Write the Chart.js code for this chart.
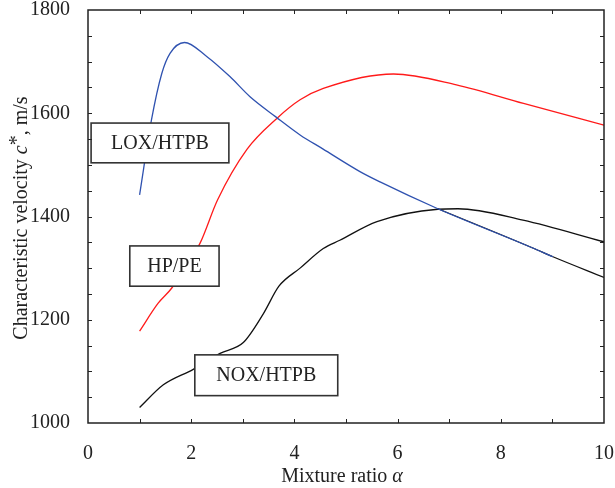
<!DOCTYPE html>
<html>
<head>
<meta charset="utf-8">
<script src="https://cdn.jsdelivr.net/npm/chart.js@4.4.1/dist/chart.umd.min.js"></script>
<style>
  html, body { margin: 0; padding: 0; background: #fff; }
</style>
</head>
<body>
<canvas id="chartMix" width="615" height="488"></canvas>
<script>
// LOX/HTPB (blue)
var loxAlpha = [1.0, 1.23, 1.43, 1.59, 1.87, 2.3, 2.75, 3.14, 3.64, 4.11, 4.55, 5.27, 5.66, 6.78, 8.62, 9.01];
var loxCstar = [1442, 1587, 1677, 1716, 1737, 1710, 1671, 1632, 1593, 1558, 1531, 1487, 1467, 1415, 1339, 1322];

// black line running under the blue one and out to alpha = 10
var tailAlpha = [6.78, 8.62, 9.01, 10];
var tailCstar = [1415, 1339, 1322, 1282];

// HP/PE (red)
var hpAlpha = [1.0, 1.36, 1.62, 2.17, 2.51, 3.08, 3.66, 4.11, 4.56, 5.92, 7.14, 8.44, 10];
var hpCstar = [1178, 1232, 1261, 1348, 1432, 1530, 1590, 1626, 1648, 1676, 1655, 1619, 1577];

// NOX/HTPB (black)
var noxAlpha = [1.0, 1.46, 2.04, 2.56, 3.01, 3.4, 3.7, 4.11, 4.56, 4.88, 5.6, 6.78, 7.17, 8.43, 10];
var noxCstar = [1030, 1074, 1104, 1135, 1156, 1212, 1265, 1300, 1338, 1354, 1390, 1414, 1415, 1393, 1351];

var xTicks = [0, 2, 4, 6, 8, 10];
var yTicks = [1000, 1200, 1400, 1600, 1800];

// label boxes, in axis units
var labelBoxes = [
    { text: 'LOX/HTPB', x0: 0.06, x1: 2.73, y0: 1504, y1: 1581 },
    { text: 'HP/PE',    x0: 0.81, x1: 2.54, y0: 1265, y1: 1343 },
    { text: 'NOX/HTPB', x0: 2.07, x1: 4.84, y0: 1053, y1: 1132 }
];

var serif = '"Liberation Serif", "DejaVu Serif", serif';

function toPoints(xs, ys) {
    return xs.map(function (x, i) { return { x: x, y: ys[i] }; });
}

function lineSet(label, xs, ys, color, order) {
    return {
        label: label,
        data: toPoints(xs, ys),
        borderColor: color,
        borderWidth: 1.3,
        pointRadius: 0,
        fill: false,
        cubicInterpolationMode: 'monotone',
        order: order
    };
}

var framePlugin = {
    id: 'framePlugin',
    afterDatasetsDraw: function (chart) {
        var ctx = chart.ctx;
        var a = chart.chartArea;
        var xs = chart.scales.x, ys = chart.scales.y;
        ctx.save();

        // boxes with labels
        labelBoxes.forEach(function (b) {
            var l = xs.getPixelForValue(b.x0), r = xs.getPixelForValue(b.x1);
            var t = ys.getPixelForValue(b.y1), btm = ys.getPixelForValue(b.y0);
            ctx.fillStyle = '#fff';
            ctx.fillRect(l, t, r - l, btm - t);
            ctx.strokeStyle = '#333';
            ctx.lineWidth = 1.6;
            ctx.strokeRect(l, t, r - l, btm - t);
            ctx.fillStyle = '#222';
            ctx.font = '20px ' + serif;
            ctx.textAlign = 'center';
            ctx.textBaseline = 'middle';
            ctx.fillText(b.text, (l + r) / 2, (t + btm) / 2 + 1);
        });

        // frame
        ctx.strokeStyle = '#222';
        ctx.lineWidth = 1.5;
        ctx.strokeRect(a.left, a.top, a.right - a.left, a.bottom - a.top);

        // inward ticks
        ctx.lineWidth = 1;
        ctx.beginPath();
        var v, p;
        for (v = 1; v < 10; v++) {
            p = Math.round(xs.getPixelForValue(v)) + 0.5;
            ctx.moveTo(p, a.bottom); ctx.lineTo(p, a.bottom - 4);
            ctx.moveTo(p, a.top); ctx.lineTo(p, a.top + 4);
        }
        for (v = 1050; v < 1800; v += 50) {
            p = Math.round(ys.getPixelForValue(v)) + 0.5;
            ctx.moveTo(a.left, p); ctx.lineTo(a.left + 4, p);
            ctx.moveTo(a.right, p); ctx.lineTo(a.right - 4, p);
        }
        ctx.stroke();
        ctx.restore();
    },
    afterDraw: function (chart) {
        var ctx = chart.ctx;
        var a = chart.chartArea;
        ctx.save();
        ctx.fillStyle = '#222';
        ctx.textBaseline = 'alphabetic';
        ctx.textAlign = 'left';

        // x title: Mixture ratio α
        var f1 = '20px ' + serif, f2 = 'italic 20px ' + serif;
        ctx.font = f1;
        var w1 = ctx.measureText('Mixture ratio ').width;
        ctx.font = f2;
        var w2 = ctx.measureText('\u03b1').width;
        var x0 = 342 - (w1 + w2) / 2;
        ctx.font = f1;
        ctx.fillText('Mixture ratio ', x0, 482);
        ctx.font = f2;
        ctx.fillText('\u03b1', x0 + w1, 482);

        // y title: Characteristic velocity c*, m/s
        var parts = [
            { t: 'Characteristic velocity ', f: f1, dy: 0 },
            { t: 'c', f: f2, dy: 0 },
            { t: '*', f: f1, dy: -4 },
            { t: ', m/s', f: f1, dy: 0 }
        ];
        var total = 0;
        parts.forEach(function (pt) { ctx.font = pt.f; pt.w = ctx.measureText(pt.t).width; total += pt.w; });
        ctx.translate(27, 218);
        ctx.rotate(-Math.PI / 2);
        var cx = -total / 2;
        parts.forEach(function (pt) {
            ctx.font = pt.f;
            ctx.fillText(pt.t, cx, pt.dy);
            cx += pt.w;
        });
        ctx.restore();
    }
};

new Chart(document.getElementById('chartMix'), {
    type: 'line',
    data: {
        datasets: [
            lineSet('LOX/HTPB', loxAlpha, loxCstar, '#2f52b0', 0),
            lineSet('HP/PE', hpAlpha, hpCstar, '#ff1a1a', 1),
            lineSet('NOX/HTPB', noxAlpha, noxCstar, '#111', 2),
            lineSet('LOX/HTPB tail', tailAlpha, tailCstar, '#111', 5)
        ]
    },
    options: {
        responsive: false,
        animation: false,
        devicePixelRatio: 1,
        layout: { padding: { top: 10, right: 11, left: 0, bottom: 0 } },
        plugins: {
            legend: { display: false },
            tooltip: { enabled: false }
        },
        scales: {
            x: {
                type: 'linear',
                min: 0,
                max: 10,
                grid: { display: false },
                border: { display: false },
                afterBuildTicks: function (scale) {
                    scale.ticks = xTicks.map(function (v) { return { value: v }; });
                },
                afterFit: function (scale) {
                    scale.height = 65;
                    scale.paddingLeft = 0;
                    scale.paddingRight = 0;
                },
                ticks: {
                    color: '#222',
                    padding: 11,
                    maxRotation: 0,
                    font: { family: serif, size: 20 },
                    callback: function (v) { return String(v); }
                }
            },
            y: {
                type: 'linear',
                min: 1000,
                max: 1800,
                grid: { display: false },
                border: { display: false },
                afterBuildTicks: function (scale) {
                    scale.ticks = yTicks.map(function (v) { return { value: v }; });
                },
                afterFit: function (scale) {
                    scale.width = 88;
                    scale.paddingTop = 0;
                    scale.paddingBottom = 0;
                },
                ticks: {
                    color: '#222',
                    padding: 10,
                    font: { family: serif, size: 20 },
                    callback: function (v) { return String(v); }
                }
            }
        }
    },
    plugins: [framePlugin]
});
</script>
</body>
</html>
